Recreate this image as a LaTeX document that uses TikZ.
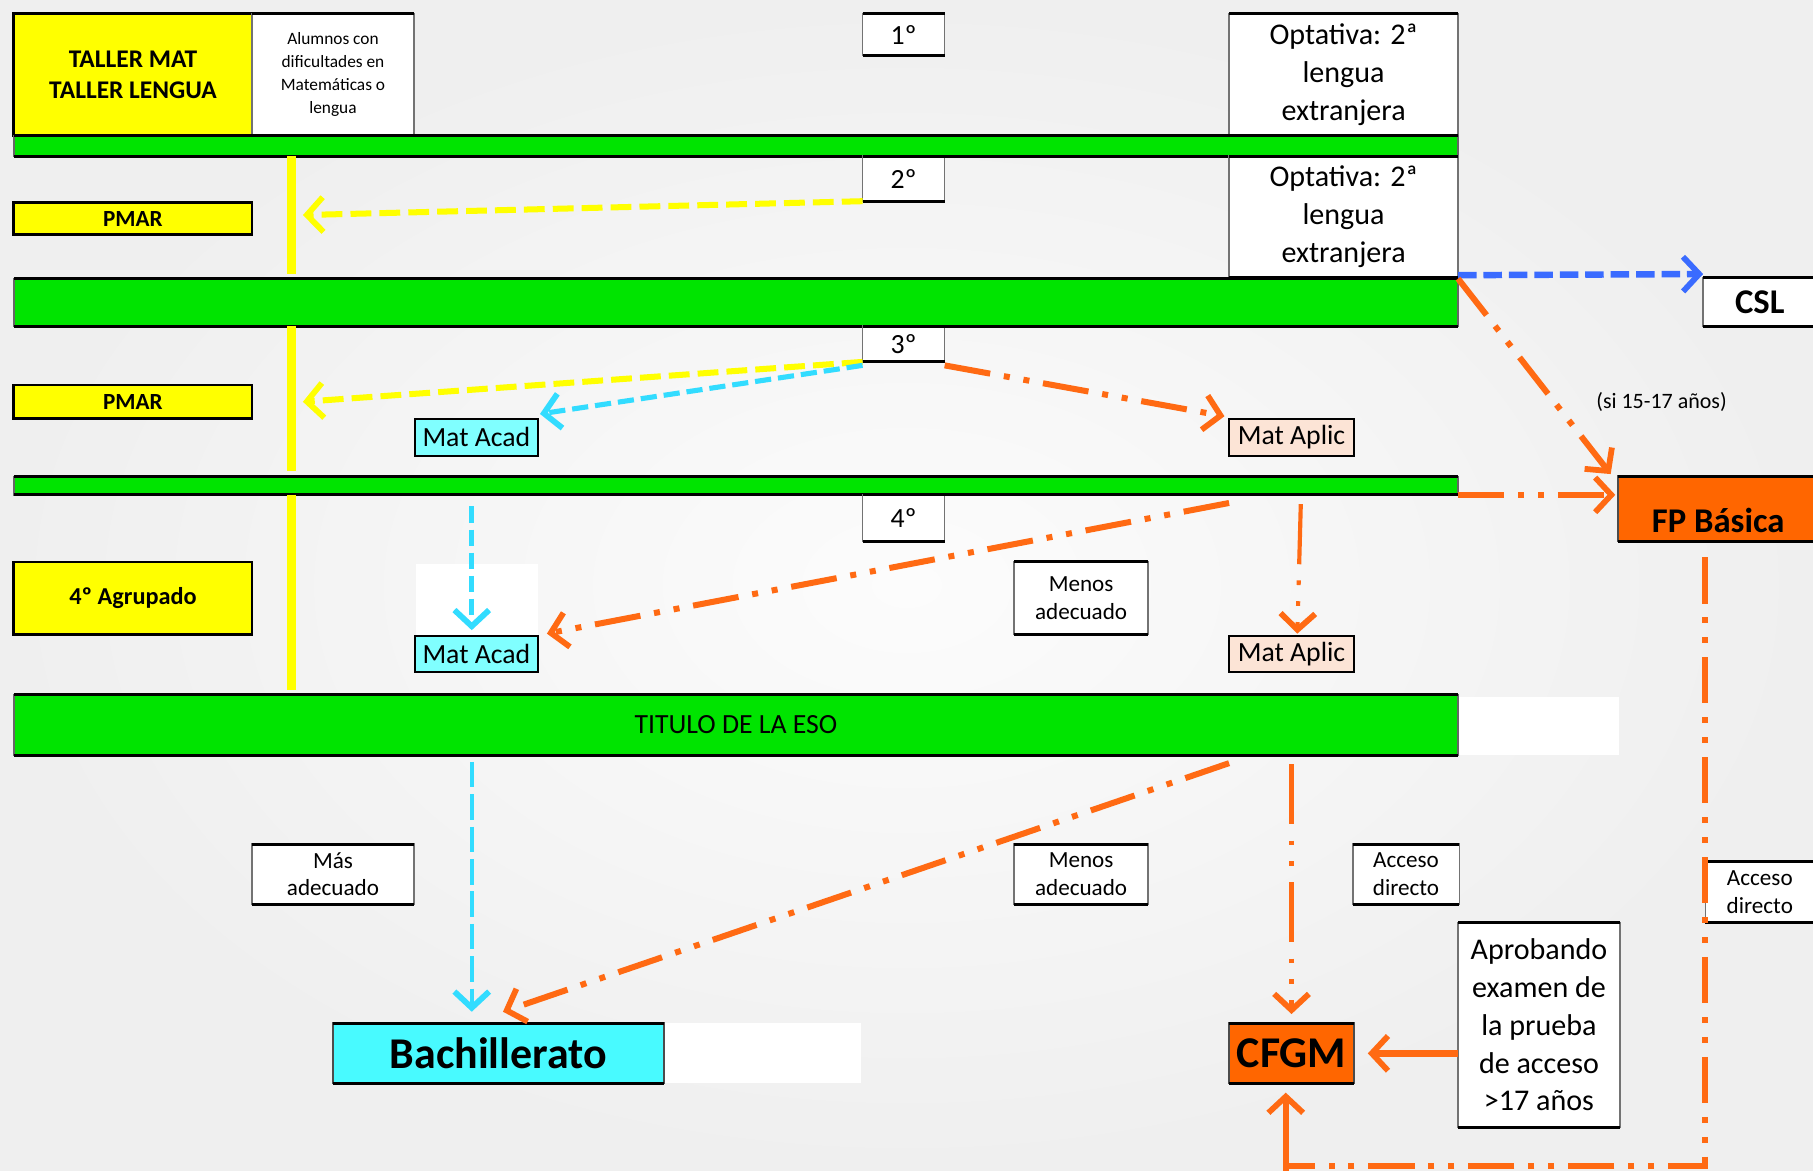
\documentclass[tikz,border=0pt]{standalone}
\usepackage{fontspec}
\setmainfont{Carlito}
\usetikzlibrary{arrows.meta,calc}
\definecolor{grn}{RGB}{0,228,0}
\definecolor{yel}{RGB}{255,255,0}
\definecolor{acad}{RGB}{128,255,255}
\definecolor{bachc}{RGB}{72,250,255}
\definecolor{aplic}{RGB}{252,228,214}
\definecolor{orf}{RGB}{255,102,0}
\definecolor{orl}{RGB}{255,106,19}
\definecolor{cyl}{RGB}{50,220,255}
\definecolor{bll}{RGB}{58,107,255}
\definecolor{bgout}{RGB}{239,239,239}
\definecolor{bgin}{RGB}{252,252,252}
\newcommand\myfs[2]{\fontsize{#1}{#2}\selectfont}
\begin{document}
\begin{tikzpicture}[x=0.5pt,y=-0.5pt,
  every node/.style={inner sep=0pt, outer sep=0pt, align=center},
  sz/.style 2 args={minimum width=#1*0.5pt, minimum height=#2*0.5pt},
  tb/.style={append after command={(\tikzlastnode.north west) edge[draw=black,line width=1.3pt] (\tikzlastnode.north east) (\tikzlastnode.south west) edge[draw=black,line width=1.3pt] (\tikzlastnode.south east)}},
  wbox/.style={draw=black!55, line width=0.6pt, fill=white, tb},
  ybox/.style={draw=black, line width=1.2pt, fill=yel},
  gbar/.style={draw=black!60, line width=0.6pt, fill=grn, tb},
  mbox/.style={draw=black, line width=0.9pt},
  obox/.style={draw=black!70, line width=0.8pt, fill=orf, tb},
  tipb/.style={-{Straight Barb[length=7pt,width=15pt,line width=2.5pt]}},
  yline/.style={draw=yel, line width=3.6pt},
  yarr/.style={draw=yel, line width=2.6pt, dash pattern=on 9pt off 3.5pt, tipb},
  carr/.style={draw=cyl, line width=2.2pt, dash pattern=on 7pt off 3pt, tipb},
  cthin/.style={draw=cyl, line width=1.6pt, dash pattern=on 11pt off 3pt, tipb},
  barr/.style={draw=bll, line width=2.8pt, dash pattern=on 8pt off 3pt, tipb},
  oarr/.style={draw=orl, line width=2.6pt, dash pattern=on 20pt off 6pt on 2.6pt off 6pt on 2.6pt off 6pt, tipb},
  othin/.style={oarr, line width=1.8pt, dash pattern=on 26pt off 7pt on 2pt off 7pt on 2pt off 7pt},
]
\useasboundingbox (0,0) rectangle (1568,1012);
\shade[inner color=bgin, outer color=bgout] (0,0) rectangle (1568,1012);
% white patches
\fill[white] (360,488) rectangle (465,550);
\fill[white] (1261,603) rectangle (1400,653);
\fill[white] (574,885) rectangle (745,937);

% row 1
\node[ybox, sz={206}{105}, font={\myfs{11}{13.5}\bfseries}] (taller) at (115,64.5) {TALLER MAT\\TALLER LENGUA};
\node[wbox, sz={140}{105}, font={\myfs{7.5}{10}}] (alumnos) at (288,64.5) {Alumnos con\\dificultades en\\Matemáticas o\\lengua};
\node[wbox, sz={71}{36}, font={\myfs{12}{14}}] (n1) at (781.5,30) {1º};
\node[wbox, sz={198}{105}, font={\myfs{13}{16.3}}] (opt1) at (1162,64.5) {Optativa: 2ª\\lengua\\extranjera};
\node[gbar, sz={1249}{18}] (bar1) at (636.5,126) {};

% row 2
\node[ybox, sz={206}{28}, font={\myfs{10}{12}\bfseries}] (pmar1) at (115,189) {PMAR};
\node[wbox, sz={71}{39}, font={\myfs{12}{14}}] (n2) at (781.5,154.5) {2º};
\node[wbox, sz={198}{105}, font={\myfs{13}{16.3}}] (opt2) at (1162,187.5) {Optativa: 2ª\\lengua\\extranjera};
\node[gbar, sz={1249}{41}] (bar2) at (636.5,261.5) {};
\node[wbox, sz={98}{42}, font={\myfs{15}{18}\bfseries}] (csl) at (1522,261) {CSL};

% row 3
\node[wbox, sz={71}{31}, font={\myfs{12}{14}}] (n3) at (781.5,297.5) {3º};
\node[ybox, sz={206}{29}, font={\myfs{10}{12}\bfseries}] (pmar2) at (115,347.5) {PMAR};
\node[mbox, fill=acad, sz={106}{32}, font={\myfs{12}{14}}] (matacad1) at (412,378) {Mat Acad};
\node[mbox, fill=aplic, sz={108}{32}, font={\myfs{12}{14}}] (mataplic1) at (1117,378) {Mat Aplic};
\node[gbar, sz={1249}{16}] (bar3) at (636.5,420) {};
\node[obox, sz={174}{56}] (fpb) at (1486,440) {};
\node[font={\myfs{15}{18}\bfseries}] (fpbt) at ([yshift=-5pt]fpb.center) {FP Básica};
\node[font={\myfs{9.5}{11}}] (si) at (1437,348) {(si 15-17 años)};

% row 4
\node[wbox, sz={71}{40}, font={\myfs{12}{14}}] (n4) at (781.5,448) {4º};
\node[ybox, sz={206}{63}, font={\myfs{10.5}{12}\bfseries}] (agrup) at (115,517.5) {4º Agrupado};
\node[wbox, sz={116}{63}, font={\myfs{10}{12}}] (menos1) at (935,517.5) {Menos\\adecuado};
\node[mbox, fill=acad, sz={106}{31}, font={\myfs{12}{14}}] (matacad2) at (412,565.5) {Mat Acad};
\node[mbox, fill=aplic, sz={108}{31}, font={\myfs{12}{14}}] (mataplic2) at (1117,565.5) {Mat Aplic};
\node[gbar, sz={1249}{52}, font={\myfs{12}{14}}] (bar4) at (636.5,627) {TITULO DE LA ESO};

% bottom
\node[wbox, sz={140}{52}, font={\myfs{10}{12}}] (mas) at (288,756) {Más\\adecuado};
\node[wbox, sz={116}{52}, font={\myfs{10}{12}}] (menos2) at (935,756) {Menos\\adecuado};
\node[wbox, sz={92}{52}, font={\myfs{10}{12}}] (acceso1) at (1216,756) {Acceso\\directo};
\node[wbox, sz={140}{177}, font={\myfs{13}{16.3}}] (aprob) at (1331,886.5) {Aprobando\\examen de\\la prueba\\de acceso\\>17 años};
\node[wbox, sz={94}{53}, font={\myfs{10}{12}}] (acceso2) at (1522,771.5) {Acceso\\directo};
\node[draw=black!70, line width=0.8pt, fill=bachc, tb, sz={286}{52}, font={\myfs{19}{22}\bfseries}] (bach) at (431,911) {Bachillerato};
\node[obox, sz={108}{52}, font={\myfs{19}{22}\bfseries}] (cfgm) at (1117,911) {CFGM};

% yellow vertical line
\coordinate (yl) at (252,0);
\coordinate (bot) at (0,1008);
\draw[yline] (yl |- bar1.south) -- ([yshift=2pt]yl |- bar2.north);
\draw[yline] (yl |- bar2.south) -- ([yshift=2.5pt]yl |- bar3.north);
\draw[yline] (yl |- bar3.south) -- ([yshift=2pt]yl |- bar4.north);

% connectors
\draw[yarr] (n2.south west) -- ([xshift=5pt,yshift=1.5pt]yl |- pmar1.center);
\draw[yarr] (n3.south west) -- ([xshift=5pt]yl |- pmar2.center);
\draw[carr] ([yshift=-1.5pt]n3.south west) -- ([xshift=1pt,yshift=2pt]matacad1.north east);
\draw[oarr] ([yshift=-1.5pt]n3.south east) -- ([xshift=-2pt,yshift=1pt]mataplic1.north west);
\draw[barr] ([yshift=1pt]opt2.south east) -- ([yshift=1.5pt]csl.north west);
\draw[oarr] (bar2.north east) -- ([xshift=-3pt,yshift=1pt]fpb.north west);
\draw[oarr] (bar3.south east) -- ([xshift=-1pt]bar3.south east -| fpb.west);
\draw[carr] ([xshift=-2pt,yshift=-5pt]matacad2.north |- bar3.south) -- ([xshift=-2pt,yshift=2.5pt]matacad2.north);
\draw[oarr] ([yshift=-3.5pt]mataplic2.north west |- bar3.south) -- ([xshift=4pt,yshift=1pt]matacad2.north east);
\draw[othin] ([xshift=4pt,yshift=-4pt]mataplic2.north |- bar3.south) -- ([xshift=2.5pt,yshift=1pt]mataplic2.north);
\draw[cthin] ([xshift=-2pt,yshift=-3pt]matacad2.south |- bar4.south) -- ([xshift=-2pt,yshift=5pt]matacad2.south |- bach.north);
\draw[oarr] ([yshift=-3.5pt]mataplic2.south west |- bar4.south) -- ([xshift=2pt,yshift=5pt]bach.north);
\draw[othin] ([yshift=-4pt]mataplic2.south |- bar4.south) -- ([yshift=4pt]cfgm.north);
\draw[draw=orl, line width=2.8pt, tipb] (aprob.west |- cfgm.east) -- ([xshift=6pt]cfgm.east);
\draw[oarr, -] ([yshift=-7pt]fpb.south -| acceso2.west) -- (acceso2.west |- bot) -| ([xshift=-2.5pt,yshift=-14pt]cfgm.south);
\draw[draw=orl, line width=2.6pt, tipb] ([xshift=-2.5pt,yshift=-16pt]cfgm.south |- bot) -- ([xshift=-2.5pt,yshift=-4pt]cfgm.south);
\end{tikzpicture}
\end{document}
